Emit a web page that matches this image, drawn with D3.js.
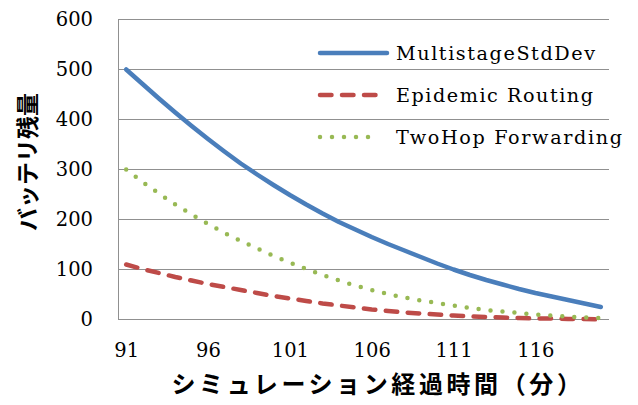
<!DOCTYPE html>
<html>
<head>
<meta charset="utf-8">
<script src="https://cdn.jsdelivr.net/npm/d3@7"></script>
<style>
  body { margin: 0; background: #fff; }
  svg { display: block; }
</style>
</head>
<body>
<div id="chart"></div>
<script>
// simulation minutes (categories)
const minutes = [91, 92, 93, 94, 95, 96, 97, 98, 99, 100,
  101, 102, 103, 104, 105, 106, 107, 108, 109, 110,
  111, 112, 113, 114, 115, 116, 117, 118, 119, 120]
const xTickLabels = [91, 96, 101, 106, 111, 116]
const yTicks = [0, 100, 200, 300, 400, 500, 600]

const multistage = [500, 471, 442, 414, 387, 361, 336, 312, 290, 269,
  249, 230, 212, 195, 180, 165, 151, 138, 125, 112,
  100, 89, 79, 70, 61, 53, 46, 39, 32, 25]
const epidemic = [110, 101, 93, 85, 78, 71, 65, 59, 53, 47,
  42, 37, 32, 28, 24, 20, 17, 14, 12, 10,
  8, 6, 5, 4, 3, 2, 2, 1, 1, 0]
const twoHop = [300, 275, 252, 230, 210, 191, 173, 157, 142, 127,
  114, 101, 89, 78, 68, 59, 51, 44, 38, 33,
  28, 23, 19, 16, 13, 10, 8, 6, 4, 3]

const seriesNames = ['MultistageStdDev', 'Epidemic Routing', 'TwoHop Forwarding']

const width = 638
const height = 405
const plot = { left: 118, right: 609, top: 19.5, bottom: 319.5 }
const latin = '"DejaVu Serif", serif'

const series = [
  { name: seriesNames[0], values: multistage, color: '#4a7ebb', dash: null, legendEnd: 387, textWidth: 199 },
  { name: seriesNames[1], values: epidemic, color: '#be4b48', dash: '11.5 10.5', legendEnd: 378, textWidth: 197 },
  { name: seriesNames[2], values: twoHop, color: '#98b954', dash: '0 12', legendEnd: 380, textWidth: 226 },
]

const svg = d3.select('#chart')
  .append('svg')
  .attr('width', width)
  .attr('height', height)

const x = d3.scalePoint()
  .domain(minutes)
  .range([plot.left, plot.right])
  .padding(0.5)

const y = d3.scaleLinear()
  .domain([0, 600])
  .range([plot.bottom, plot.top])

// gridlines
svg.append('g')
  .selectAll('line')
  .data(yTicks)
  .join('line')
  .attr('x1', plot.left)
  .attr('x2', plot.right)
  .attr('y1', (d) => y(d))
  .attr('y2', (d) => y(d))
  .attr('stroke', '#909090')
  .attr('stroke-width', 1)

// left axis line
svg.append('line')
  .attr('x1', plot.left + 0.5)
  .attr('x2', plot.left + 0.5)
  .attr('y1', plot.top)
  .attr('y2', plot.bottom)
  .attr('stroke', '#909090')

// y tick labels
const yAxis = d3.axisLeft(y).tickValues(yTicks).tickSize(0).tickPadding(25)
svg.append('g')
  .attr('transform', `translate(${plot.left},0)`)
  .call(yAxis)
  .call((g) => g.select('.domain').remove())
  .selectAll('text')
  .style('font-family', latin)
  .style('font-size', '19.5px')
  .attr('fill', '#000')

// x tick labels
const xAxis = d3.axisBottom(x).tickValues(xTickLabels).tickSize(0).tickPadding(24)
svg.append('g')
  .attr('transform', `translate(0,${plot.bottom})`)
  .call(xAxis)
  .call((g) => g.select('.domain').remove())
  .selectAll('text')
  .style('font-family', latin)
  .style('font-size', '19.5px')
  .attr('fill', '#000')

// lines
const line = d3.line()
  .x((d, i) => x(minutes[i]))
  .y((d) => y(d))

svg.append('g')
  .selectAll('path')
  .data(series)
  .join('path')
  .attr('d', (d) => line(d.values))
  .attr('fill', 'none')
  .attr('stroke', (d) => d.color)
  .attr('stroke-width', 4.5)
  .attr('stroke-linecap', 'round')
  .attr('stroke-linejoin', 'round')
  .attr('stroke-dasharray', (d) => d.dash)

// legend
const legend = svg.append('g')
  .selectAll('g')
  .data(series)
  .join('g')
  .attr('transform', (d, i) => `translate(0,${53 + i * 42})`)

legend.append('line')
  .attr('x1', 320)
  .attr('x2', (d) => d.legendEnd)
  .attr('stroke', (d) => d.color)
  .attr('stroke-width', 4.5)
  .attr('stroke-linecap', 'round')
  .attr('stroke-dasharray', (d) => d.dash)

legend.append('text')
  .attr('x', 396)
  .attr('dy', '0.35em')
  .attr('textLength', (d) => d.textWidth)
  .attr('lengthAdjust', 'spacing')
  .style('font-family', latin)
  .style('font-size', '19.2px')
  .text((d) => d.name)

// axis titles
svg.append('text')
  .attr('transform', 'translate(28,162) rotate(-90)')
  .attr('text-anchor', 'middle')
  .attr('dy', '0.35em')
  .style('font-family', '"Noto Sans CJK JP"')
  .style('font-weight', 'bold')
  .style('font-size', '23px')
  .text('バッテリ残量')

svg.append('text')
  .attr('x', 378)
  .attr('y', 385)
  .attr('text-anchor', 'middle')
  .attr('dy', '0.35em')
  .style('font-family', '"Noto Sans CJK JP"')
  .style('font-weight', 'bold')
  .style('font-size', '24px')
  .style('letter-spacing', '3.6px')
  .text('シミュレーション経過時間（分）')
</script>
</body>
</html>
